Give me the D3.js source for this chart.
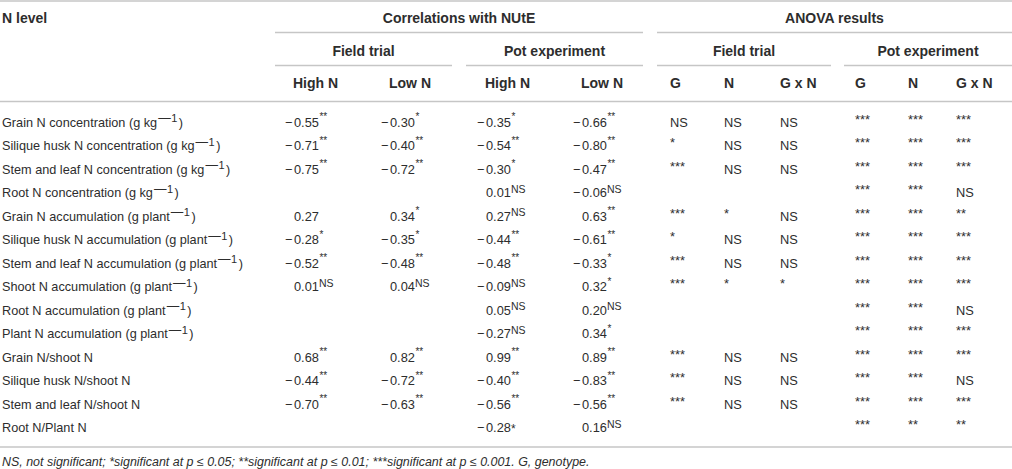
<!DOCTYPE html>
<html>
<head>
<meta charset="utf-8">
<script src="https://cdn.jsdelivr.net/npm/d3@7"></script>
<style>
  html, body { margin: 0; padding: 0; background: #fff; }
  svg { display: block; font-family: "Liberation Sans", Arial, sans-serif; }
  .txt { fill: #2d2d2d; font-size: 12.8px; }
  .lbl { font-size: 12.7px; }
  .hdr { font-weight: bold; font-size: 14px; }
  .rule { stroke: #c6c6c6; stroke-width: 1.7; }
  .note { font-style: italic; font-size: 12.45px; fill: #2d2d2d; }
</style>
</head>
<body>
<svg id="chart" width="1012" height="469"></svg>
<script>
// --- Table data ---
const traits = [
    "Grain N concentration", "Silique husk N concentration", "Stem and leaf N concentration",
    "Root N concentration", "Grain N accumulation", "Silique husk N accumulation",
    "Stem and leaf N accumulation", "Shoot N accumulation", "Root N accumulation",
    "Plant N accumulation", "Grain N/shoot N", "Silique husk N/shoot N",
    "Stem and leaf N/shoot N", "Root N/Plant N"
];
const units = ["g kg", "g kg", "g kg", "g kg", "g plant", "g plant", "g plant",
    "g plant", "g plant", "g plant", null, null, null, null];

// correlations with NUtE (null = not measured); "*i" = asterisk printed inline
const fieldHighR   = [-0.55, -0.71, -0.75, null, 0.27, -0.28, -0.52, 0.01, null, null, 0.68, -0.44, -0.70, null];
const fieldHighSig = ["**", "**", "**", null, "", "*", "**", "NS", null, null, "**", "**", "**", null];
const fieldLowR    = [-0.30, -0.40, -0.72, null, 0.34, -0.35, -0.48, 0.04, null, null, 0.82, -0.72, -0.63, null];
const fieldLowSig  = ["*", "**", "**", null, "*", "*", "**", "NS", null, null, "**", "**", "**", null];
const potHighR     = [-0.35, -0.54, -0.30, 0.01, 0.27, -0.44, -0.48, -0.09, 0.05, -0.27, 0.99, -0.40, -0.56, -0.28];
const potHighSig   = ["*", "**", "*", "NS", "NS", "**", "**", "NS", "NS", "NS", "**", "**", "**", "*i"];
const potLowR      = [-0.66, -0.80, -0.47, -0.06, 0.63, -0.61, -0.33, 0.32, 0.20, 0.34, 0.89, -0.83, -0.56, 0.16];
const potLowSig    = ["**", "**", "**", "NS", "**", "**", "*", "*", "NS", "*", "**", "**", "**", "NS"];

// ANOVA results
const fieldG   = ["NS", "*", "***", null, "***", "*", "***", "***", null, null, "***", "***", "***", null];
const fieldN   = ["NS", "NS", "NS", null, "*", "NS", "NS", "*", null, null, "NS", "NS", "NS", null];
const fieldGxN = ["NS", "NS", "NS", null, "NS", "NS", "NS", "*", null, null, "NS", "NS", "NS", null];
const potG     = ["***", "***", "***", "***", "***", "***", "***", "***", "***", "***", "***", "***", "***", "***"];
const potN     = ["***", "***", "***", "***", "***", "***", "***", "***", "***", "***", "***", "***", "***", "**"];
const potGxN   = ["***", "***", "***", "NS", "**", "***", "***", "***", "NS", "***", "***", "NS", "***", "**"];

const groupHeaders = ["Correlations with NUtE", "ANOVA results"];
const subHeaders = ["Field trial", "Pot experiment", "Field trial", "Pot experiment"];
const colHeaders = ["High N", "Low N", "High N", "Low N", "G", "N", "G x N", "G", "N", "G x N"];
const footnote = "NS, not significant; *significant at p \u2264 0.05; **significant at p \u2264 0.01; ***significant at p \u2264 0.001. G, genotype.";

// --- Layout ---
const W = 1012;
const svg = d3.select("#chart");

const y = d3.scalePoint().domain(d3.range(traits.length)).range([122.3, 427.6]);
// left edge of each cell's text
const colX = d3.scaleOrdinal().domain(d3.range(colHeaders.length))
    .range([294, 390, 486, 582, 670, 724, 780, 855, 908, 956]);

const groupSpans = [[275, 643], [657, W]];
const subSpans = [[275, 452], [466, 643], [657, 831], [844, W]];

function rule(x1, x2, yy) {
    svg.append("line").attr("class", "rule")
        .attr("x1", x1).attr("x2", x2).attr("y1", yy).attr("y2", yy);
}

rule(0, W, 1);
groupSpans.forEach(s => rule(s[0], s[1], 32.5));
subSpans.forEach(s => rule(s[0], s[1], 65.5));
rule(0, W, 101.5);
rule(0, W, 447);

// headers
svg.append("text").attr("class", "txt hdr").attr("x", 2).attr("y", 23).text("N level");

svg.selectAll(".grp").data(groupHeaders).enter().append("text")
    .attr("class", "txt hdr grp").attr("text-anchor", "middle")
    .attr("x", (d, i) => (groupSpans[i][0] + groupSpans[i][1]) / 2)
    .attr("y", 23).text(d => d);

svg.selectAll(".sub").data(subHeaders).enter().append("text")
    .attr("class", "txt hdr sub").attr("text-anchor", "middle")
    .attr("x", (d, i) => (subSpans[i][0] + subSpans[i][1]) / 2)
    .attr("y", 56).text(d => d);

svg.selectAll(".col").data(colHeaders).enter().append("text")
    .attr("class", "txt hdr col")
    .attr("x", (d, i) => colX(i) - (i < 4 ? 1 : 0))
    .attr("y", 88).text(d => d);

// row labels, unit exponent as superscript
const labels = svg.selectAll(".lbl").data(traits).enter().append("text")
    .attr("class", "txt lbl").attr("x", 2).attr("y", (d, i) => y(i) + 4.5);
labels.each(function(d, i) {
    const t = d3.select(this);
    if (!units[i]) { t.text(d); return; }
    t.append("tspan").text(d + " (" + units[i]);
    t.append("tspan").attr("dx", 1).attr("dy", -4.5).attr("font-size", 12.5).text("\u2014");
    t.append("tspan").attr("dx", 0.5).attr("font-size", 11).text("1");
    t.append("tspan").attr("dx", 1.5).attr("dy", 4.5).text(")");
});

// correlation cells
const corrCols = [[fieldHighR, fieldHighSig], [fieldLowR, fieldLowSig],
                  [potHighR, potHighSig], [potLowR, potLowSig]];
const fmt = d3.format(".2f");

corrCols.forEach(([vals, sigs], c) => {
    vals.forEach((v, i) => {
        if (v === null) return;
        const yy = y(i) + 4.5;
        if (v < 0) {
            svg.append("text").attr("class", "txt").attr("text-anchor", "end")
                .attr("x", colX(c) - 1.5).attr("y", yy).text("\u2212");
        }
        const t = svg.append("text").attr("class", "txt").attr("x", colX(c)).attr("y", yy);
        t.append("tspan").text(fmt(Math.abs(v)));
        const s = sigs[i];
        if (s === "NS") {
            t.append("tspan").attr("dy", -4.5).attr("font-size", 10.5).text("NS");
        } else if (s === "*i") {
            t.append("tspan").attr("dy", 1).attr("font-size", 12).text("*");
        } else if (s) {
            t.append("tspan").attr("dx", 0.5).attr("dy", -6.5).attr("font-size", 10).text(s);
        }
    });
});

// ANOVA cells
const anovaCols = [fieldG, fieldN, fieldGxN, potG, potN, potGxN];
anovaCols.forEach((vals, k) => {
    vals.forEach((v, i) => {
        if (!v) return;
        const star = v !== "NS";
        svg.append("text").attr("class", "txt")
            .attr("x", colX(k + 4)).attr("y", y(i) + (star ? 1.5 : 4.5))
            .attr("font-size", star ? 9 : 12.4)
            .text(v);
    });
});

svg.append("text").attr("class", "note").attr("x", 2).attr("y", 466).text(footnote);
</script>
</body>
</html>
